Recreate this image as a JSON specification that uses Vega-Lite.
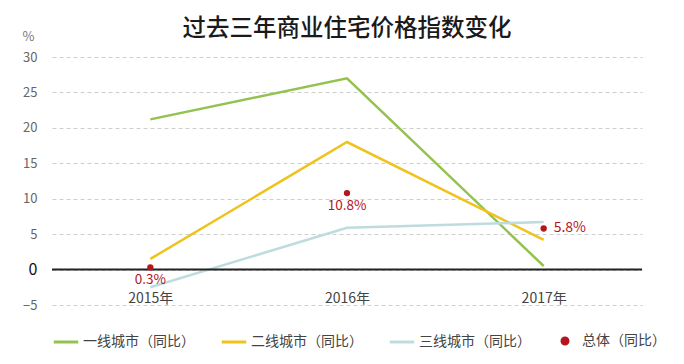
{
  "$schema": "https://vega.github.io/schema/vega-lite/v6.json",
  "autosize": "none",
  "width": 590,
  "height": 248,
  "padding": {"left": 52, "top": 57, "right": 42, "bottom": 59},
  "background": "white",
  "title": {"text": "过去三年商业住宅价格指数变化", "fontSize": 23.5, "fontWeight": 500, "color": "#1a1a1a", "font": "Noto Sans CJK SC", "offset": -10, "anchor": "middle"},
  "config": {
    "view": {"stroke": null},
    "font": "Noto Sans CJK SC",
    "axisX": {"title": null, "labelAngle": 0, "domain": false, "ticks": false, "offset": -16, "labelPadding": 2, "labelFontSize": 14, "labelColor": "#444", "grid": false}
  },
  "datasets": {
    "series": [
      {"year": "2015年", "series": "一线城市（同比）", "value": 21.2},
      {"year": "2016年", "series": "一线城市（同比）", "value": 27.0},
      {"year": "2017年", "series": "一线城市（同比）", "value": 0.5},
      {"year": "2015年", "series": "二线城市（同比）", "value": 1.5},
      {"year": "2016年", "series": "二线城市（同比）", "value": 18.0},
      {"year": "2017年", "series": "二线城市（同比）", "value": 4.2},
      {"year": "2015年", "series": "三线城市（同比）", "value": -2.5},
      {"year": "2016年", "series": "三线城市（同比）", "value": 5.9},
      {"year": "2017年", "series": "三线城市（同比）", "value": 6.7}
    ],
    "total": [
      {"year": "2015年", "series": "总体（同比）", "value": 0.3, "label": "0.3%"},
      {"year": "2016年", "series": "总体（同比）", "value": 10.8, "label": "10.8%"},
      {"year": "2017年", "series": "总体（同比）", "value": 5.8, "label": "5.8%"}
    ],
    "zero": [{"value": 0}]
  },
  "encoding": {
    "y": {
      "field": "value", "type": "quantitative",
      "scale": {"domain": [-5, 30], "nice": false, "zero": false},
      "axis": {
        "values": [-5, 0, 5, 10, 15, 20, 25, 30],
        "labelOverlap": false, "labelBound": false, "labelFlush": false,
        "title": "%", "titleAngle": 0, "titleX": -24, "titleY": -21, "titleAlign": "center", "titleBaseline": "middle", "titleFontSize": 13, "titleFontWeight": "normal", "titleColor": "#777",
        "domain": false, "ticks": false, "labelPadding": 15,
        "labelFontSize": {"condition": {"test": "datum.value === 0", "value": 16}, "value": 13},
        "labelColor": {"condition": {"test": "datum.value === 0", "value": "#111"}, "value": "#666"},
        "gridDash": [4, 3], "gridColor": "#cfcfcf", "gridWidth": 1
      }
    }
  },
  "layer": [
    {
      "data": {"name": "series"},
      "mark": {"type": "line", "strokeWidth": 2.5},
      "encoding": {
        "x": {
          "field": "year", "type": "ordinal",
          "scale": {"type": "point", "padding": 0.5, "domain": ["2015年", "2016年", "2017年"]}
        },
        "color": {
          "field": "series", "type": "nominal",
          "scale": {
            "domain": ["一线城市（同比）", "二线城市（同比）", "三线城市（同比）", "总体（同比）"],
            "range": ["#93c24e", "#efc31e", "#bedcdf", "#b3161d"]
          },
          "legend": {
            "title": null, "orient": "bottom", "direction": "horizontal", "offset": 22,
            "symbolType": "stroke", "symbolStrokeWidth": 3, "symbolSize": 600,
            "labelFontSize": 14, "labelColor": "#444", "labelOffset": 3, "columnPadding": 20,
            "encode": {
              "symbols": {
                "update": {
                  "shape": {"signal": "datum.value === '总体（同比）' ? 'circle' : 'stroke'"},
                  "fill": {"signal": "datum.value === '总体（同比）' ? '#b3161d' : 'transparent'"},
                  "size": {"signal": "datum.value === '总体（同比）' ? 36 : 600"}
                }
              }
            }
          }
        }
      }
    },
    {
      "data": {"name": "zero"},
      "mark": {"type": "rule", "color": "#222", "strokeWidth": 2}
    },
    {
      "data": {"name": "total"},
      "mark": {"type": "point", "filled": true, "size": 40, "opacity": 1, "color": "#b3161d"},
      "encoding": {"x": {"field": "year", "type": "ordinal"}}
    },
    {
      "data": {"name": "total"},
      "transform": [{"filter": "datum.year !== '2017年'"}],
      "mark": {"type": "text", "dy": 13, "fontSize": 13.5, "color": "#b3161d"},
      "encoding": {"x": {"field": "year", "type": "ordinal"}, "text": {"field": "label"}}
    },
    {
      "data": {"name": "total"},
      "transform": [{"filter": "datum.year === '2017年'"}],
      "mark": {"type": "text", "dx": 10, "align": "left", "fontSize": 14, "color": "#b3161d"},
      "encoding": {"x": {"field": "year", "type": "ordinal"}, "text": {"field": "label"}}
    }
  ]
}
